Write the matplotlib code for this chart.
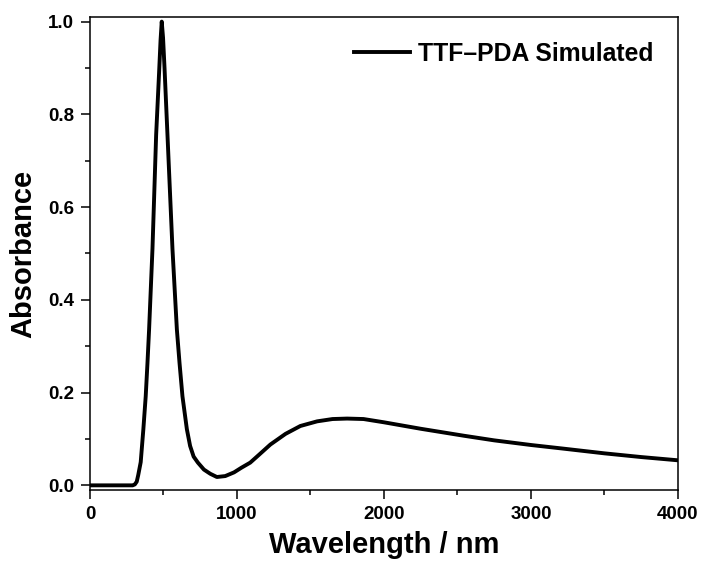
import matplotlib
matplotlib.use("Agg")
import matplotlib.pyplot as plt
from matplotlib.ticker import MultipleLocator

# values
wavelength = [0, 100, 200, 290, 305, 318, 328, 345, 363, 379, 391, 402, 425,
              450, 470, 480, 488, 497, 507, 527, 561, 591, 609, 629, 659, 681,
              705, 734, 775, 818, 863, 920, 980, 1030, 1090, 1150, 1227, 1330,
              1431, 1545, 1650, 1749, 1861, 1999, 2250, 2543, 2750, 3000, 3225,
              3500, 3750, 4000]
absorbance = [0.0, 0.0, 0.0, 0.0, 0.002, 0.008, 0.022, 0.05, 0.121, 0.192,
              0.264, 0.336, 0.51, 0.756, 0.89, 0.96, 1.0, 0.965, 0.90, 0.756,
              0.51, 0.336, 0.264, 0.192, 0.121, 0.085, 0.062, 0.049, 0.034,
              0.025, 0.018, 0.020, 0.028, 0.038, 0.049, 0.066, 0.088, 0.111,
              0.128, 0.138, 0.143, 0.144, 0.143, 0.136, 0.122, 0.107, 0.097,
              0.087, 0.079, 0.069, 0.061, 0.054]

plt.rcParams['font.family'] = ['Liberation Sans', 'DejaVu Sans']
plt.rcParams['font.weight'] = 'bold'

fig = plt.figure(figsize=(7.02, 5.66), dpi=100)
ax = fig.add_axes([0.1282, 0.1343, 0.8376, 0.8357])

ax.plot(wavelength, absorbance, color='black', lw=2.8, solid_joinstyle='round',
        label='TTF\u2013PDA Simulated')

ax.set_xlim(0, 4000)
ax.set_ylim(-0.01, 1.01)
ax.xaxis.set_major_locator(MultipleLocator(1000))
ax.xaxis.set_minor_locator(MultipleLocator(500))
ax.yaxis.set_major_locator(MultipleLocator(0.2))
ax.yaxis.set_minor_locator(MultipleLocator(0.1))
ax.yaxis.set_major_formatter(lambda v, pos: f"{v:.1f}")

ax.tick_params(which='major', direction='out', length=6.5, width=1.1, pad=5, labelsize=13.5)
ax.tick_params(which='minor', direction='out', length=3.5, width=1.1)
for lab in ax.get_xticklabels() + ax.get_yticklabels():
    lab.set_fontweight('bold')
for s in ax.spines.values():
    s.set_linewidth(1.1)

ax.set_xlabel('Wavelength / nm', fontsize=21, fontweight='bold', labelpad=6)
ax.set_ylabel('Absorbance', fontsize=21, fontweight='bold', labelpad=8)

leg = ax.legend(loc='upper right', frameon=False, fontsize=17.8, handlelength=2.3,
                handletextpad=0.3, borderaxespad=0.5, borderpad=0.5)
for t in leg.get_texts():
    t.set_fontweight('bold')

fig.savefig('out.png', dpi=100)
